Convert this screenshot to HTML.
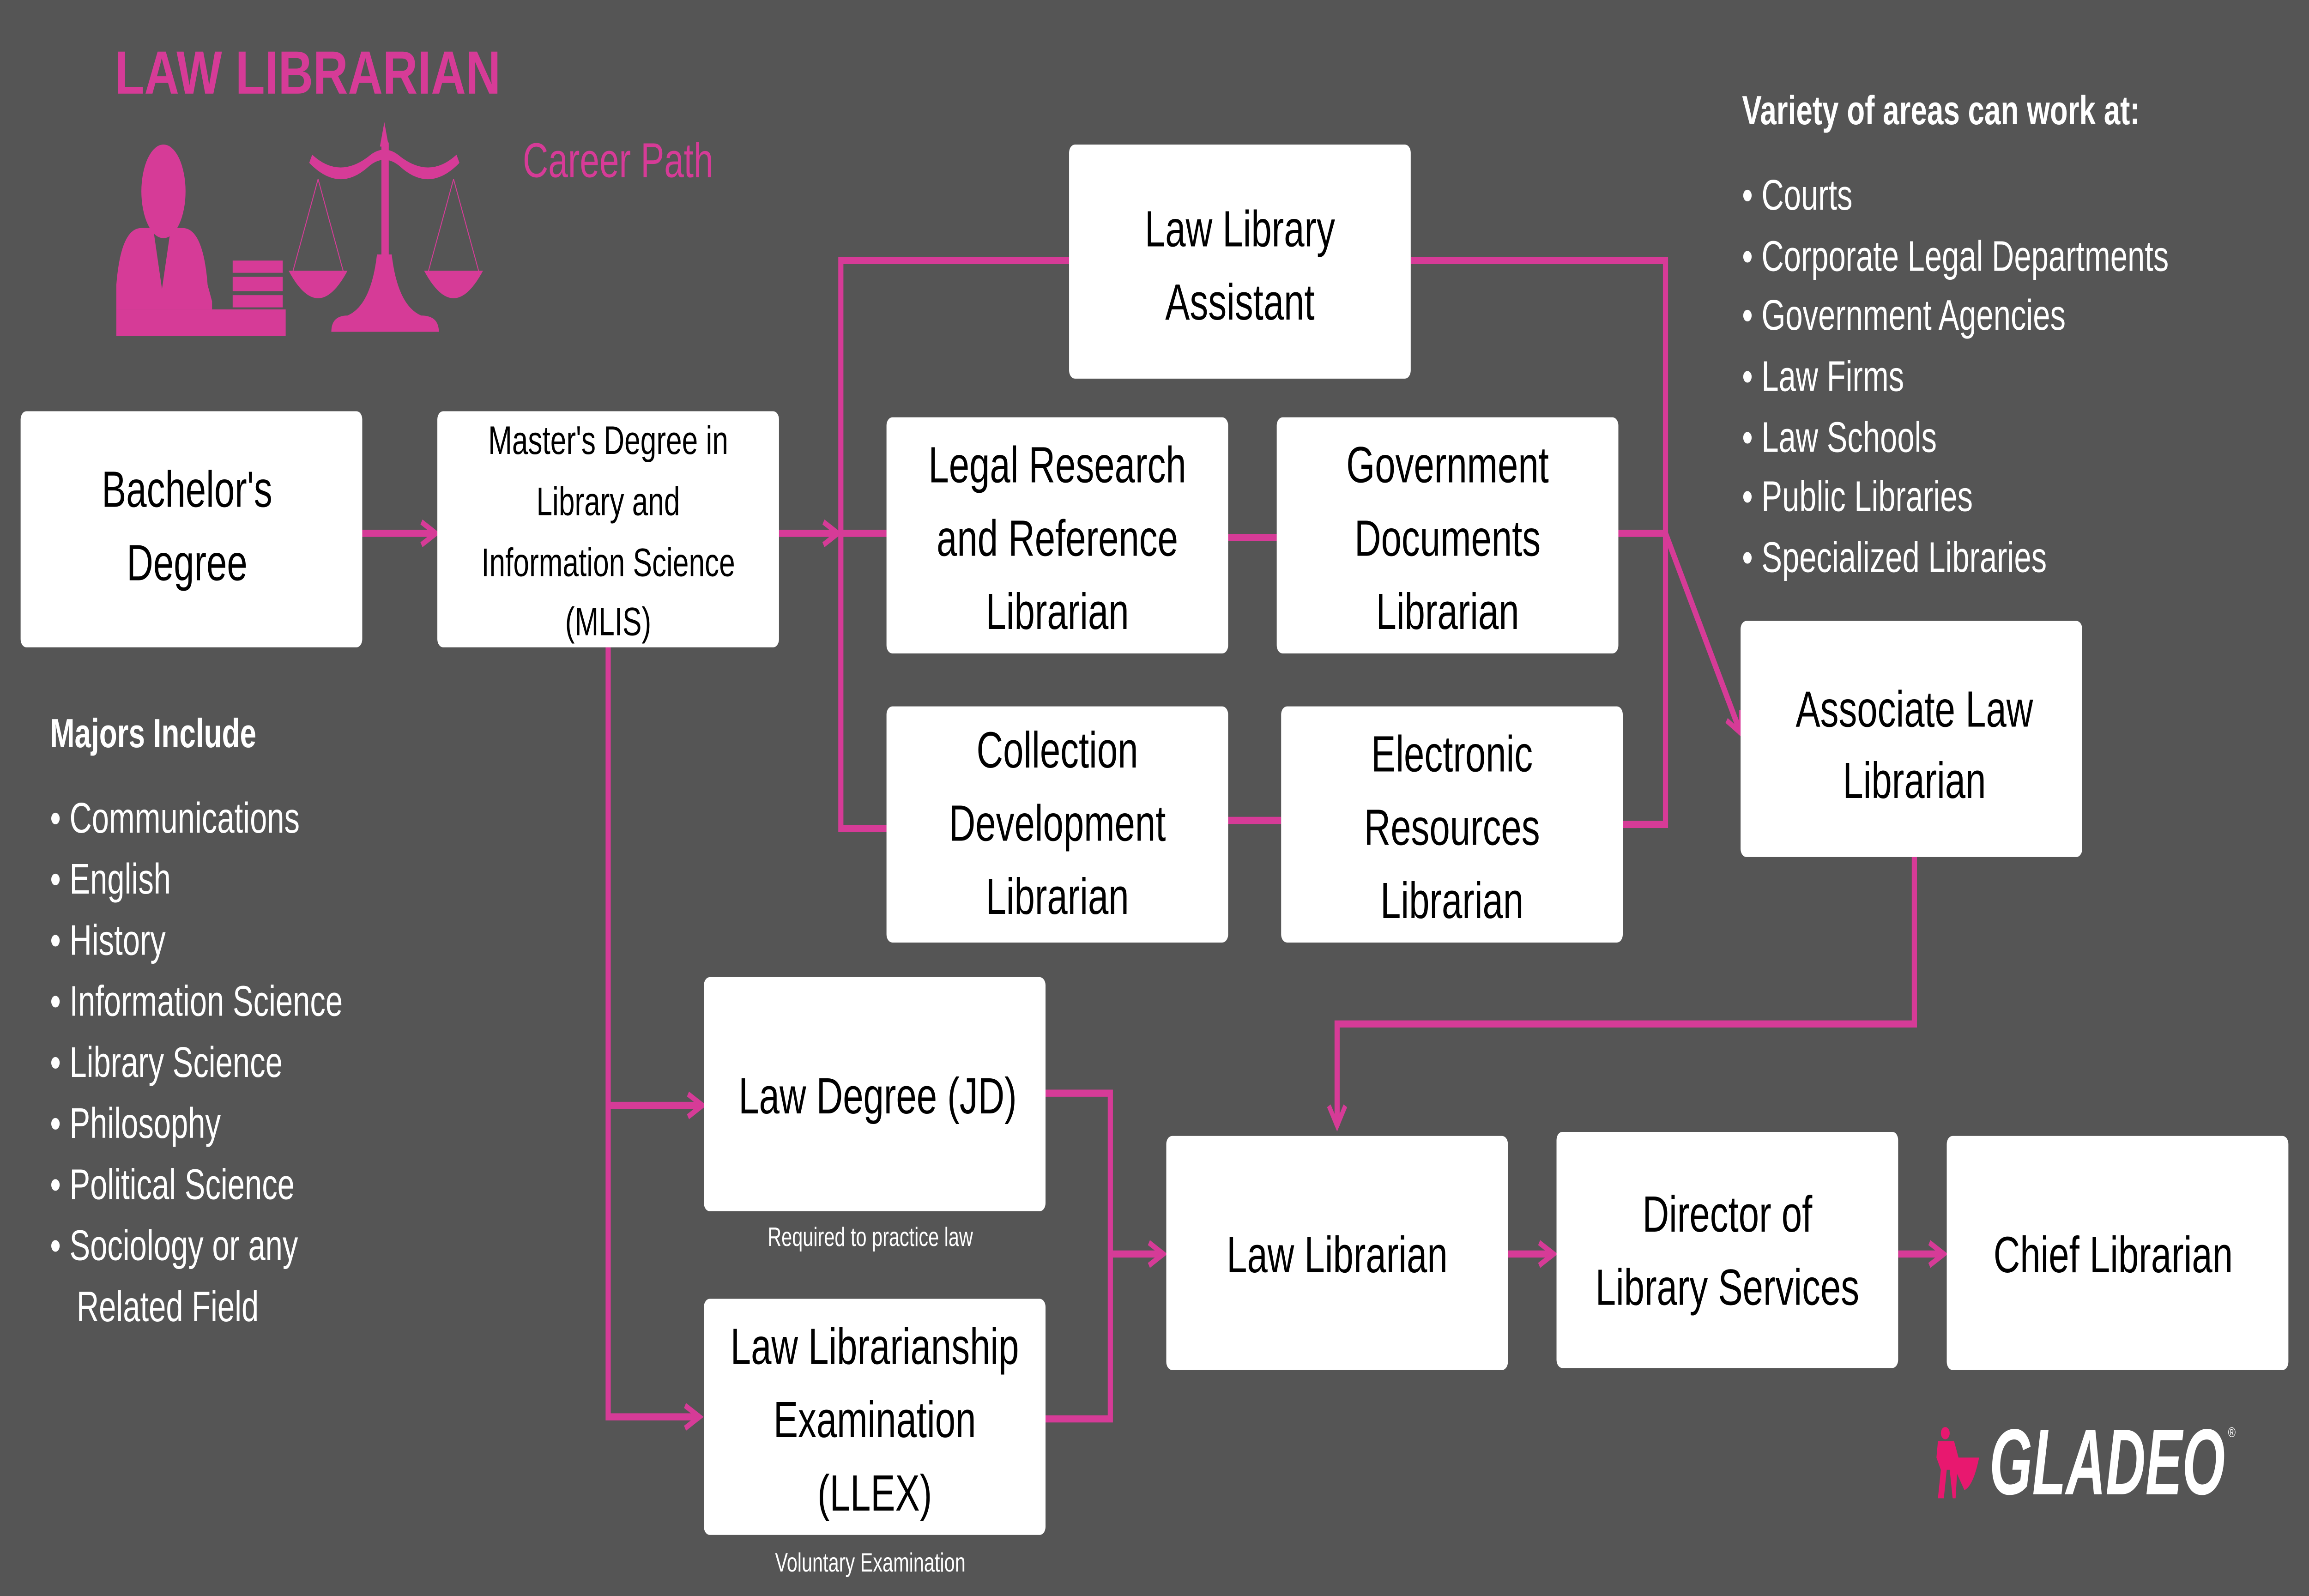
<!DOCTYPE html>
<html><head><meta charset="utf-8"><style>
html,body{margin:0;padding:0;background:#555555;width:100%;height:100%;overflow:hidden;}
svg{display:block;width:100vw;height:100vh;position:absolute;left:0;top:0}
.b{fill:#fff}
.t{font-family:"Liberation Sans",sans-serif;fill:#000;text-anchor:middle}
.w{font-family:"Liberation Sans",sans-serif;fill:#fff}
.l{stroke:#d63b97;stroke-width:3.5;fill:none}
</style></head><body>
<svg viewBox="0 0 1568 784" preserveAspectRatio="none" xmlns="http://www.w3.org/2000/svg">
<defs><marker id="a" viewBox="0 0 10 10" refX="8" refY="5" markerWidth="4" markerHeight="4" orient="auto"><path d="M1,1 L8,5 L1,9" fill="none" stroke="#d63b97" stroke-width="2"/></marker></defs>
<rect width="1568" height="784" fill="#555555"/>
<text x="78" y="46" font-family="Liberation Sans,sans-serif" font-weight="bold" font-size="30" fill="#d63b97" textLength="262" lengthAdjust="spacingAndGlyphs">LAW LIBRARIAN</text>
<text x="355" y="87" font-family="Liberation Sans,sans-serif" font-size="24" fill="#d63b97">Career Path</text>
<g fill="#d63b97">
<ellipse cx="111" cy="94" rx="15" ry="23"/>
<path d="M79,140 Q82,112 96,112 L104,112 L110,142 L116,112 L124,112 Q138,112 141,140 L144,148 L144,152 L79,152 Z"/>
<rect x="79" y="152" width="115" height="13"/>
<rect x="158" y="128" width="34" height="6"/><rect x="158" y="136" width="34" height="7"/><rect x="158" y="145" width="34" height="6"/>
<rect x="259" y="70" width="5" height="85"/>
<path d="M261,60 L264,72 L258,72 Z"/>
<path d="M210,80 Q230,95 250,82 Q261,75 272,82 Q292,95 312,80 L310,76 Q292,88 272,77 Q261,70 250,77 Q230,88 212,76 Z"/>
<path d="M196,133 L236,133 Q216,160 196,133 Z"/><path d="M288,133 L328,133 Q308,160 288,133 Z"/>
<path d="M225,163 L298,163 Q298,155 286,155 Q270,150 266,125 L256,125 Q252,150 236,155 Q225,155 225,163 Z"/>
</g>
<g stroke="#d63b97" stroke-width="0.6"><line x1="216" y1="88" x2="199" y2="133"/><line x1="216" y1="88" x2="233" y2="133"/><line x1="308" y1="88" x2="291" y2="133"/><line x1="308" y1="88" x2="325" y2="133"/></g>

<path class="l" d="M246,262 H296" marker-end="url(#a)"/>
<path class="l" d="M529,262 H569" marker-end="url(#a)"/>
<path class="l" d="M726,128 H571 V407 H602 M571,262 H602"/>
<path class="l" d="M834,264 H867 M834,403 H870"/>
<path class="l" d="M958,128 H1131 V405 H1102 M1099,262 H1131"/>
<path class="l" d="M1131,262 L1182,360" marker-end="url(#a)"/>
<path class="l" d="M1300,421 V503 H908 V553" marker-end="url(#a)"/>
<path class="l" d="M413,318 V696 H475" marker-end="url(#a)"/>
<path class="l" d="M413,543 H477" marker-end="url(#a)"/>
<path class="l" d="M710,537 H754 V697 H710 M754,616 H790" marker-end="url(#a)"/>
<path class="l" d="M1024,616 H1055" marker-end="url(#a)"/>
<path class="l" d="M1289,616 H1320" marker-end="url(#a)"/>

<g class="b">
<rect x="14" y="202" width="232" height="116" rx="4"/>
<rect x="297" y="202" width="232" height="116" rx="4"/>
<rect x="726" y="71" width="232" height="115" rx="4"/>
<rect x="602" y="205" width="232" height="116" rx="4"/>
<rect x="867" y="205" width="232" height="116" rx="4"/>
<rect x="602" y="347" width="232" height="116" rx="4"/>
<rect x="870" y="347" width="232" height="116" rx="4"/>
<rect x="1182" y="305" width="232" height="116" rx="4"/>
<rect x="478" y="480" width="232" height="115" rx="4"/>
<rect x="478" y="638" width="232" height="116" rx="4"/>
<rect x="792" y="558" width="232" height="115" rx="4"/>
<rect x="1057" y="556" width="232" height="116" rx="4"/>
<rect x="1322" y="558" width="232" height="115" rx="4"/>
</g>
<g class="t" font-size="25">
<text x="127" y="249">Bachelor's</text><text x="127" y="285">Degree</text>
<text x="842" y="121">Law Library</text><text x="842" y="157">Assistant</text>
<text x="718" y="237">Legal Research</text><text x="718" y="273">and Reference</text><text x="718" y="309">Librarian</text>
<text x="983" y="237">Government</text><text x="983" y="273">Documents</text><text x="983" y="309">Librarian</text>
<text x="718" y="377">Collection</text><text x="718" y="413">Development</text><text x="718" y="449">Librarian</text>
<text x="986" y="379">Electronic</text><text x="986" y="415">Resources</text><text x="986" y="451">Librarian</text>
<text x="1300" y="357">Associate Law</text><text x="1300" y="392">Librarian</text>
<text x="596" y="547">Law Degree (JD)</text>
<text x="594" y="670">Law Librarianship</text><text x="594" y="706">Examination</text><text x="594" y="742">(LLEX)</text>
<text x="908" y="625">Law Librarian</text>
<text x="1173" y="605">Director of</text><text x="1173" y="641">Library Services</text>
<text x="1435" y="625">Chief Librarian</text>
</g>
<g class="t" font-size="19.5">
<text x="413" y="223">Master's Degree in</text><text x="413" y="253">Library and</text><text x="413" y="283">Information Science</text><text x="413" y="312">(MLIS)</text>
</g>
<text class="w" x="591" y="612" font-size="13" text-anchor="middle">Required to practice law</text>
<text class="w" x="591" y="772" font-size="13" text-anchor="middle">Voluntary Examination</text>

<text class="w" x="34" y="367" font-size="20" font-weight="bold">Majors Include</text>
<g class="w" font-size="21">
<text x="34" y="409">• Communications</text>
<text x="34" y="439">• English</text>
<text x="34" y="469">• History</text>
<text x="34" y="499">• Information Science</text>
<text x="34" y="529">• Library Science</text>
<text x="34" y="559">• Philosophy</text>
<text x="34" y="589">• Political Science</text>
<text x="34" y="619">• Sociology or any</text>
<text x="52" y="649">Related Field</text>
</g>
<text class="w" x="1183" y="61" font-size="20" font-weight="bold">Variety of areas can work at:</text>
<g class="w" font-size="21">
<text x="1183" y="103">• Courts</text>
<text x="1183" y="133">• Corporate Legal Departments</text>
<text x="1183" y="162">• Government Agencies</text>
<text x="1183" y="192">• Law Firms</text>
<text x="1183" y="222">• Law Schools</text>
<text x="1183" y="251">• Public Libraries</text>
<text x="1183" y="281">• Specialized Libraries</text>
</g>
<g fill="#e8186f">
<circle cx="1321" cy="704" r="3"/>
<path d="M1316,708 L1327,708 L1330,716 L1344,716 Q1340,730 1334,732 L1329,724 L1328,736 L1326,736 L1324,722 L1322,722 L1320,736 L1316,736 L1318,722 L1315,716 Z"/>
</g>
<text x="1351" y="734" font-family="Liberation Sans,sans-serif" font-weight="bold" font-style="italic" font-size="46" fill="#fff" textLength="160" lengthAdjust="spacingAndGlyphs">GLADEO</text>
<text x="1513" y="706" font-family="Liberation Sans,sans-serif" font-size="7" fill="#fff">®</text>
</svg>
</body></html>
